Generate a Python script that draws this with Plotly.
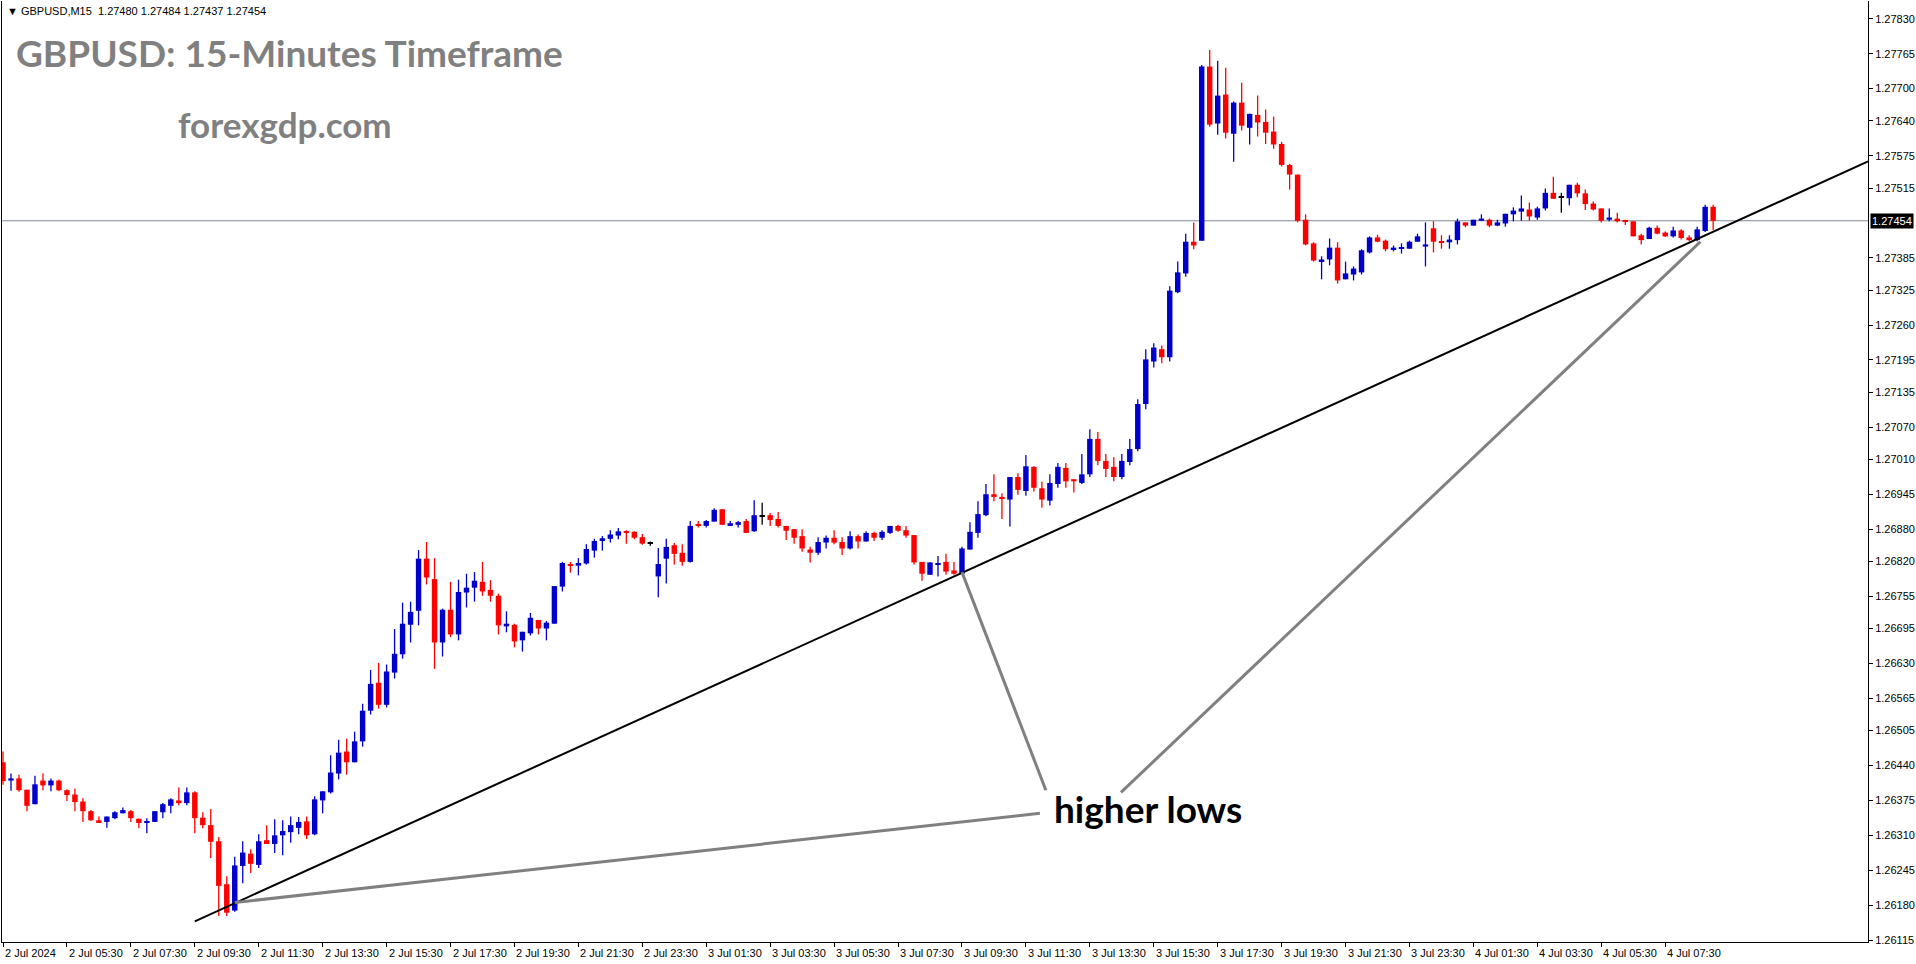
import plotly.graph_objects as go

W, H = 1916, 964
PLOT_L, PLOT_R, PLOT_T, PLOT_B = 2, 1870, 1, 942

opens = [
    1.26446, 1.26412, 1.26416, 1.26395, 1.26368, 1.26412, 1.26403, 1.26412, 1.26394, 1.26386,
    1.26373, 1.26355, 1.26338, 1.26335, 1.26342, 1.26351, 1.26355, 1.26341, 1.26333, 1.26335,
    1.26353, 1.26365, 1.26375, 1.26370, 1.26390, 1.26343, 1.26329, 1.26299, 1.26219, 1.26170,
    1.26253, 1.26276, 1.26255, 1.26301, 1.26294, 1.26310, 1.26316, 1.26324, 1.26336, 1.26312,
    1.26375, 1.26390, 1.26425, 1.26466, 1.26446, 1.26485, 1.26542, 1.26594, 1.26553, 1.26613,
    1.26647, 1.26702, 1.26728, 1.26825, 1.26787, 1.26669, 1.26730, 1.26684, 1.26762, 1.26771,
    1.26782, 1.26767, 1.26756, 1.26699, 1.26702, 1.26673, 1.26686, 1.26711, 1.26695, 1.26704,
    1.26773, 1.26815, 1.26812, 1.26816, 1.26840, 1.26858, 1.26862, 1.26868, 1.26876, 1.26875,
    1.26865, 1.26854, 1.26792, 1.26825, 1.26850, 1.26836, 1.26819, 1.26888, 1.26886, 1.26894,
    1.26917, 1.26886, 1.26888, 1.26895, 1.26876, 1.26904, 1.26906, 1.26899, 1.26886, 1.26880,
    1.26867, 1.26842, 1.26836, 1.26855, 1.26864, 1.26856, 1.26844, 1.26867, 1.26857, 1.26873,
    1.26864, 1.26873, 1.26886, 1.26878, 1.26869, 1.26819, 1.26795, 1.26814, 1.26819, 1.26803,
    1.26797, 1.26842, 1.26873, 1.26906, 1.26945, 1.26940, 1.26935, 1.26977, 1.26951, 1.26996,
    1.26956, 1.26933, 1.26964, 1.26994, 1.26973, 1.26966, 1.26982, 1.27048, 1.27007, 1.26996,
    1.26977, 1.27005, 1.27029, 1.27113, 1.27192, 1.27215, 1.27200, 1.27321, 1.27356, 1.27415,
    1.27417, 1.27741, 1.27635, 1.27689, 1.27616, 1.27674, 1.27627, 1.27651, 1.27638, 1.27620,
    1.27597, 1.27558, 1.27540, 1.27456, 1.27412, 1.27379, 1.27382, 1.27404, 1.27345, 1.27354,
    1.27358, 1.27395, 1.27423, 1.27417, 1.27401, 1.27402, 1.27402, 1.27415, 1.27406, 1.27440,
    1.27415, 1.27414, 1.27418, 1.27451, 1.27445, 1.27454, 1.27456, 1.27445, 1.27449, 1.27466,
    1.27471, 1.27475, 1.27460, 1.27477, 1.27506, 1.27497, 1.27496, 1.27521, 1.27505, 1.27486,
    1.27477, 1.27456, 1.27458, 1.27455, 1.27453, 1.27427, 1.27420, 1.27441, 1.27432, 1.27425,
    1.27436, 1.27423, 1.27418, 1.27435, 1.27480,
]
highs = [
    1.26466, 1.26425, 1.26423, 1.26395, 1.26421, 1.26425, 1.26416, 1.26414, 1.26396, 1.26397,
    1.26379, 1.26357, 1.26345, 1.26345, 1.26355, 1.26362, 1.26357, 1.26341, 1.26342, 1.26355,
    1.26370, 1.26379, 1.26399, 1.26399, 1.26392, 1.26353, 1.26359, 1.26307, 1.26234, 1.26270,
    1.26299, 1.26284, 1.26312, 1.26329, 1.26340, 1.26338, 1.26345, 1.26344, 1.26345, 1.26383,
    1.26392, 1.26459, 1.26488, 1.26490, 1.26503, 1.26555, 1.26618, 1.26631, 1.26628, 1.26694,
    1.26743, 1.26745, 1.26841, 1.26856, 1.26826, 1.26732, 1.26782, 1.26786, 1.26797, 1.26800,
    1.26819, 1.26785, 1.26760, 1.26727, 1.26704, 1.26689, 1.26724, 1.26711, 1.26709, 1.26774,
    1.26819, 1.26819, 1.26826, 1.26852, 1.26862, 1.26867, 1.26878, 1.26882, 1.26878, 1.26876,
    1.26871, 1.26857, 1.26845, 1.26862, 1.26854, 1.26852, 1.26895, 1.26895, 1.26897, 1.26919,
    1.26917, 1.26895, 1.26895, 1.26899, 1.26934, 1.26929, 1.26910, 1.26912, 1.26886, 1.26880,
    1.26880, 1.26847, 1.26865, 1.26868, 1.26878, 1.26865, 1.26876, 1.26870, 1.26876, 1.26875,
    1.26878, 1.26886, 1.26888, 1.26886, 1.26869, 1.26819, 1.26819, 1.26830, 1.26834, 1.26819,
    1.26847, 1.26893, 1.26932, 1.26964, 1.26982, 1.26947, 1.26977, 1.26984, 1.27018, 1.26997,
    1.26968, 1.26982, 1.27003, 1.27003, 1.26973, 1.27020, 1.27066, 1.27061, 1.27020, 1.27014,
    1.27020, 1.27048, 1.27122, 1.27215, 1.27226, 1.27222, 1.27332, 1.27378, 1.27430, 1.27451,
    1.27744, 1.27772, 1.27752, 1.27739, 1.27676, 1.27711, 1.27653, 1.27687, 1.27661, 1.27648,
    1.27601, 1.27560, 1.27540, 1.27466, 1.27414, 1.27388, 1.27421, 1.27414, 1.27378, 1.27369,
    1.27401, 1.27425, 1.27428, 1.27419, 1.27408, 1.27412, 1.27417, 1.27430, 1.27451, 1.27453,
    1.27427, 1.27427, 1.27458, 1.27451, 1.27456, 1.27466, 1.27458, 1.27456, 1.27467, 1.27479,
    1.27501, 1.27488, 1.27480, 1.27514, 1.27536, 1.27506, 1.27521, 1.27525, 1.27512, 1.27490,
    1.27477, 1.27477, 1.27469, 1.27456, 1.27453, 1.27430, 1.27443, 1.27445, 1.27434, 1.27443,
    1.27438, 1.27427, 1.27443, 1.27484, 1.27484,
]
lows = [
    1.26404, 1.26393, 1.26391, 1.26355, 1.26368, 1.26394, 1.26392, 1.26392, 1.26374, 1.26355,
    1.26335, 1.26337, 1.26333, 1.26324, 1.26340, 1.26351, 1.26335, 1.26323, 1.26314, 1.26335,
    1.26342, 1.26351, 1.26366, 1.26366, 1.26314, 1.26323, 1.26268, 1.26160, 1.26160, 1.26168,
    1.26221, 1.26240, 1.26249, 1.26294, 1.26277, 1.26273, 1.26296, 1.26312, 1.26303, 1.26310,
    1.26351, 1.26388, 1.26414, 1.26423, 1.26446, 1.26475, 1.26535, 1.26546, 1.26548, 1.26602,
    1.26639, 1.26669, 1.26701, 1.26777, 1.26620, 1.26643, 1.26679, 1.26673, 1.26734, 1.26745,
    1.26756, 1.26745, 1.26684, 1.26688, 1.26660, 1.26652, 1.26682, 1.26684, 1.26673, 1.26704,
    1.26764, 1.26799, 1.26794, 1.26814, 1.26827, 1.26840, 1.26855, 1.26861, 1.26853, 1.26861,
    1.26851, 1.26849, 1.26753, 1.26779, 1.26814, 1.26812, 1.26818, 1.26883, 1.26883, 1.26894,
    1.26888, 1.26886, 1.26883, 1.26873, 1.26875, 1.26888, 1.26886, 1.26883, 1.26860, 1.26853,
    1.26838, 1.26818, 1.26832, 1.26844, 1.26852, 1.26832, 1.26842, 1.26844, 1.26857, 1.26858,
    1.26860, 1.26871, 1.26875, 1.26864, 1.26814, 1.26784, 1.26795, 1.26792, 1.26795, 1.26795,
    1.26797, 1.26842, 1.26864, 1.26904, 1.26932, 1.26899, 1.26885, 1.26944, 1.26942, 1.26950,
    1.26920, 1.26924, 1.26957, 1.26957, 1.26948, 1.26964, 1.26977, 1.26999, 1.26977, 1.26969,
    1.26973, 1.26999, 1.27025, 1.27103, 1.27181, 1.27189, 1.27192, 1.27319, 1.27350, 1.27401,
    1.27417, 1.27629, 1.27614, 1.27607, 1.27564, 1.27622, 1.27596, 1.27611, 1.27597, 1.27588,
    1.27555, 1.27512, 1.27451, 1.27408, 1.27378, 1.27345, 1.27371, 1.27337, 1.27345, 1.27343,
    1.27354, 1.27393, 1.27414, 1.27397, 1.27397, 1.27393, 1.27402, 1.27415, 1.27369, 1.27395,
    1.27402, 1.27402, 1.27410, 1.27442, 1.27445, 1.27454, 1.27442, 1.27444, 1.27443, 1.27453,
    1.27454, 1.27454, 1.27456, 1.27473, 1.27495, 1.27469, 1.27483, 1.27498, 1.27474, 1.27473,
    1.27451, 1.27453, 1.27451, 1.27446, 1.27425, 1.27410, 1.27420, 1.27429, 1.27424, 1.27423,
    1.27419, 1.27416, 1.27416, 1.27433, 1.27437,
]
closes = [
    1.26411, 1.26416, 1.26394, 1.26365, 1.26405, 1.26403, 1.26412, 1.26394, 1.26385, 1.26372,
    1.26355, 1.26338, 1.26333, 1.26345, 1.26353, 1.26357, 1.26342, 1.26333, 1.26336, 1.26355,
    1.26368, 1.26377, 1.26370, 1.26390, 1.26342, 1.26329, 1.26298, 1.26216, 1.26166, 1.26254,
    1.26278, 1.26257, 1.26299, 1.26294, 1.26310, 1.26318, 1.26329, 1.26335, 1.26310, 1.26377,
    1.26392, 1.26427, 1.26464, 1.26446, 1.26485, 1.26542, 1.26592, 1.26553, 1.26615, 1.26648,
    1.26704, 1.26726, 1.26825, 1.26790, 1.26669, 1.26730, 1.26684, 1.26763, 1.26771, 1.26784,
    1.26764, 1.26756, 1.26701, 1.26704, 1.26671, 1.26689, 1.26715, 1.26695, 1.26706, 1.26774,
    1.26817, 1.26812, 1.26817, 1.26843, 1.26858, 1.26863, 1.26870, 1.26876, 1.26873, 1.26864,
    1.26853, 1.26854, 1.26815, 1.26847, 1.26834, 1.26819, 1.26886, 1.26886, 1.26895, 1.26916,
    1.26888, 1.26891, 1.26893, 1.26873, 1.26906, 1.26904, 1.26897, 1.26886, 1.26877, 1.26864,
    1.26844, 1.26836, 1.26856, 1.26864, 1.26855, 1.26844, 1.26867, 1.26857, 1.26873, 1.26864,
    1.26875, 1.26886, 1.26877, 1.26868, 1.26818, 1.26797, 1.26818, 1.26816, 1.26801, 1.26797,
    1.26844, 1.26875, 1.26908, 1.26945, 1.26940, 1.26937, 1.26977, 1.26953, 1.26997, 1.26957,
    1.26935, 1.26966, 1.26996, 1.26969, 1.26969, 1.26982, 1.27048, 1.27007, 1.26992, 1.26977,
    1.27007, 1.27029, 1.27113, 1.27196, 1.27218, 1.27200, 1.27324, 1.27358, 1.27415, 1.27408,
    1.27741, 1.27633, 1.27687, 1.27618, 1.27674, 1.27631, 1.27653, 1.27637, 1.27618, 1.27596,
    1.27558, 1.27540, 1.27454, 1.27410, 1.27380, 1.27382, 1.27404, 1.27343, 1.27356, 1.27365,
    1.27399, 1.27423, 1.27415, 1.27401, 1.27404, 1.27404, 1.27415, 1.27425, 1.27410, 1.27415,
    1.27414, 1.27419, 1.27453, 1.27445, 1.27456, 1.27458, 1.27445, 1.27451, 1.27467, 1.27473,
    1.27477, 1.27462, 1.27477, 1.27506, 1.27495, 1.27497, 1.27521, 1.27505, 1.27485, 1.27475,
    1.27454, 1.27460, 1.27453, 1.27452, 1.27425, 1.27418, 1.27441, 1.27430, 1.27425, 1.27436,
    1.27422, 1.27418, 1.27438, 1.27480, 1.27454,
]

x_labels = [
    "2 Jul 2024", "2 Jul 05:30", "2 Jul 07:30", "2 Jul 09:30", "2 Jul 11:30", "2 Jul 13:30",
    "2 Jul 15:30", "2 Jul 17:30", "2 Jul 19:30", "2 Jul 21:30", "2 Jul 23:30", "3 Jul 01:30",
    "3 Jul 03:30", "3 Jul 05:30", "3 Jul 07:30", "3 Jul 09:30", "3 Jul 11:30", "3 Jul 13:30",
    "3 Jul 15:30", "3 Jul 17:30", "3 Jul 19:30", "3 Jul 21:30", "3 Jul 23:30", "4 Jul 01:30",
    "4 Jul 03:30", "4 Jul 05:30", "4 Jul 07:30",
]
bars_per_label = 8
y_ticks = [
    1.27830, 1.27765, 1.27700, 1.27640, 1.27575, 1.27515, 1.27385, 1.27325, 1.27260,
    1.27195, 1.27135, 1.27070, 1.27010, 1.26945, 1.26880, 1.26820, 1.26755, 1.26695,
    1.26630, 1.26565, 1.26505, 1.26440, 1.26375, 1.26310, 1.26245, 1.26180, 1.26115,
]
last_price = 1.27454
header_text = "\u25bc GBPUSD,M15\u00a0\u00a01.27480 1.27484 1.27437 1.27454"

# trend line anchors (bar index, price) and "higher lows" pointers
trend_anchors = [(24, 1.26150), (212, 1.27420)]
label_pos = (131.3, 1.26360)
pointers = [
    ((29.0, 1.26185), (129.75, 1.26351)),
    ((120.0, 1.26800), (130.5, 1.26394)),
    ((212.4, 1.27415), (139.9, 1.26390)),
]

# axis ranges
x_min, x_max = -0.125, 233.375
y_top, y_bot = 1.278631, 1.2611148

BLUE, RED = "#0000CC", "#FF0000"
SMALL_FONT = "Tahoma, 'Liberation Sans Narrow', 'Liberation Sans', Arial, sans-serif"

n = len(opens)
idx = list(range(n))
colors, bases, heights = [], [], []
for o, c in zip(opens, closes):
    colors.append(BLUE if c > o else (RED if c < o else "#000000"))
    bases.append(min(o, c))
    heights.append(max(abs(c - o), 0.000016))

fig = go.Figure()

for col in (BLUE, RED, "#000000"):
    wx, wy = [], []
    for i in idx:
        if colors[i] == col:
            wx += [i, i, None]
            wy += [highs[i], lows[i], None]
    fig.add_trace(go.Scatter(x=wx, y=wy, mode="lines", line=dict(color=col, width=1.3),
                             hoverinfo="skip", showlegend=False))

fig.add_trace(go.Bar(x=idx, y=heights, base=bases, width=0.68,
                     marker=dict(color=colors, line=dict(width=0)),
                     hoverinfo="skip", showlegend=False))

# trend line extended to right edge
(x0, p0), (x1, p1) = trend_anchors
slope = (p1 - p0) / (x1 - x0)
fig.add_trace(go.Scatter(x=[x0, x_max], y=[p0, p0 + slope * (x_max - x0)], mode="lines",
                         line=dict(color="#000000", width=2), hoverinfo="skip", showlegend=False))

for (a, b) in pointers:
    fig.add_trace(go.Scatter(x=[a[0], b[0]], y=[a[1], b[1]], mode="lines",
                             line=dict(color="#808080", width=3), hoverinfo="skip",
                             showlegend=False))

def px_x(p):
    return (p - PLOT_L) / (PLOT_R - PLOT_L)

def px_y(p):
    return (PLOT_B - p) / (PLOT_B - PLOT_T)

annotations = []
for k, lab in enumerate(x_labels):
    annotations.append(dict(x=k * bars_per_label, y=0, xref="x", yref="paper", text=lab,
                            showarrow=False, xanchor="left", yanchor="top", xshift=0, yshift=-3,
                            font=dict(family=SMALL_FONT, size=11, color="#000000")))
annotations.append(dict(x=1, y=last_price, xref="paper", yref="y", text="1.27454",
                        showarrow=False, xanchor="left", yanchor="middle", xshift=2,
                        bgcolor="#000000", borderpad=1,
                        font=dict(family=SMALL_FONT, size=11, color="#FFFFFF")))
annotations.append(dict(x=px_x(5), y=px_y(11), xref="paper", yref="paper", text=header_text,
                        showarrow=False, xanchor="left", yanchor="middle",
                        font=dict(family=SMALL_FONT, size=11, color="#000000")))
annotations.append(dict(x=px_x(14), y=px_y(53), xref="paper", yref="paper",
                        text="<b>GBPUSD: 15-Minutes Timeframe</b>", showarrow=False,
                        xanchor="left", yanchor="middle",
                        font=dict(family="Lato", size=37, color="#808080")))
annotations.append(dict(x=px_x(176), y=px_y(124), xref="paper", yref="paper",
                        text="<b>forexgdp.com</b>", showarrow=False,
                        xanchor="left", yanchor="middle",
                        font=dict(family="Lato", size=35, color="#808080")))
annotations.append(dict(x=label_pos[0], y=label_pos[1], xref="x", yref="y",
                        text="<b>higher lows</b>", showarrow=False,
                        xanchor="left", yanchor="middle",
                        font=dict(family="Lato", size=37, color="#000000")))

fig.update_layout(
    width=W, height=H,
    margin=dict(l=PLOT_L, r=W - PLOT_R, t=PLOT_T, b=H - PLOT_B),
    paper_bgcolor="#FFFFFF", plot_bgcolor="#FFFFFF",
    showlegend=False,
    shapes=[dict(type="line", xref="paper", yref="y", x0=0, x1=1, y0=last_price, y1=last_price,
                 line=dict(color="#7F8893", width=1), layer="below")],
    annotations=annotations,
    xaxis=dict(range=[x_min, x_max], showgrid=False, zeroline=False, showline=True,
               linecolor="#000000", linewidth=1, ticks="outside", ticklen=4, tickcolor="#000000",
               tickvals=[k * bars_per_label for k in range(len(x_labels))],
               showticklabels=False, fixedrange=True),
    yaxis=dict(range=[y_bot, y_top], side="right", showgrid=False, zeroline=False,
               showline=True, mirror=True, linecolor="#000000", linewidth=1,
               ticks="outside", ticklen=4, tickcolor="#000000",
               tickvals=y_ticks, ticktext=["%.5f" % v for v in y_ticks],
               tickfont=dict(family=SMALL_FONT, size=11, color="#000000"), fixedrange=True),
)

fig.write_html("out.html")
